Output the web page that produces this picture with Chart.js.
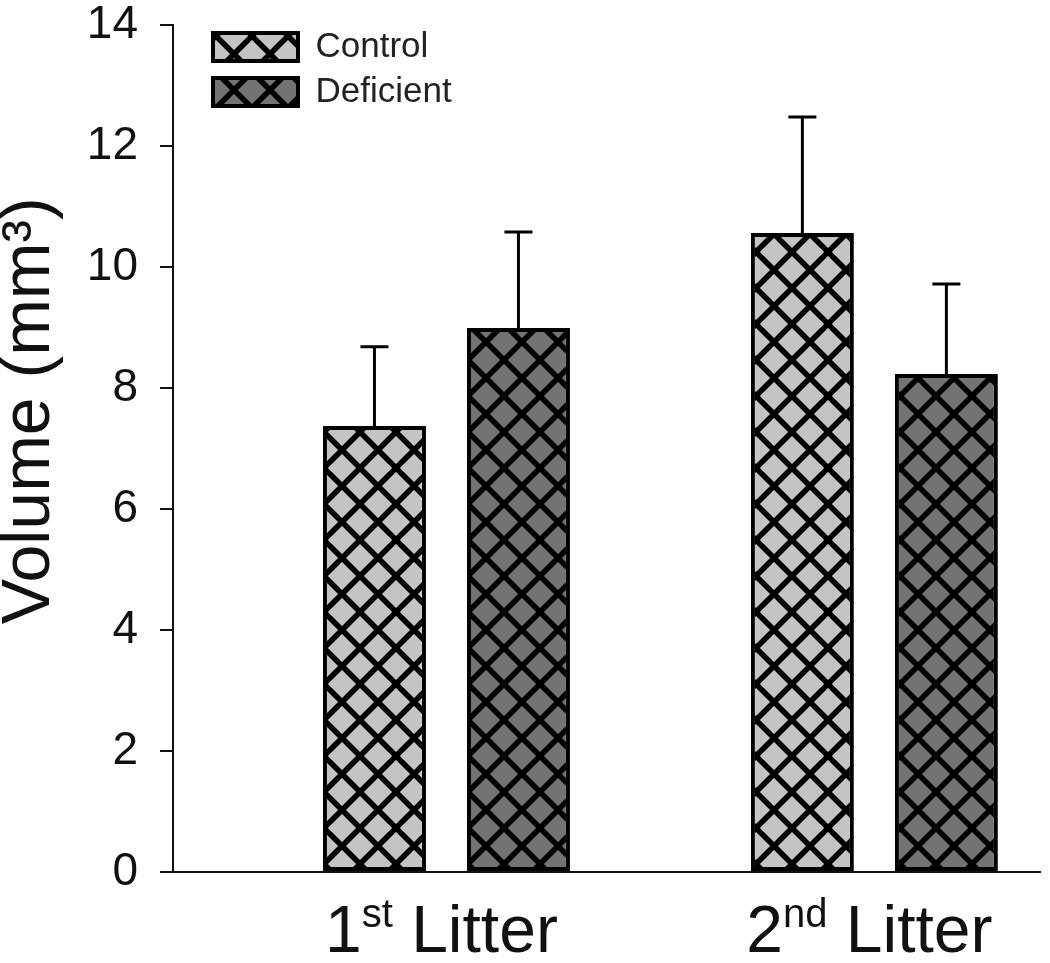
<!DOCTYPE html>
<html>
<head>
<meta charset="utf-8">
<script src="https://cdn.jsdelivr.net/npm/chart.js@4.4.1/dist/chart.umd.min.js"></script>
<style>
  html, body { margin: 0; padding: 0; background: #fff; }
  #wrap { width: 1050px; height: 963px; }
</style>
</head>
<body>
<div id="wrap"><canvas id="volChart" width="1050" height="963"></canvas></div>
<script>
    // data
    const categories = ['1st Litter', '2nd Litter'];
    const groupPos = [1, 2];
    const seriesNames = ['Control', 'Deficient'];
    const controlMean = [7.37, 10.56];
    const controlErr = [1.31, 1.92];
    const deficientMean = [8.99, 8.23];
    const deficientErr = [1.59, 1.49];
    const yTicks = [0, 2, 4, 6, 8, 10, 12, 14];

    const FONT = '"Liberation Sans", Arial, sans-serif';

    // crosshatch fill like the original
    function hatch(fill) {
        const P = 36;
        const c = document.createElement('canvas');
        c.width = P; c.height = P;
        const g = c.getContext('2d');
        g.fillStyle = fill;
        g.fillRect(0, 0, P, P);
        g.strokeStyle = '#000';
        g.lineWidth = 5.5;
        for (let k = -1; k <= 1; k++) {
            g.beginPath();
            g.moveTo(k * P, 0); g.lineTo(k * P + P, P);
            g.moveTo(k * P + P, 0); g.lineTo(k * P, P);
            g.stroke();
        }
        return g.createPattern(c, 'repeat');
    }

    const means = [controlMean, deficientMean];
    const errs = [controlErr, deficientErr];

    // upper error bars
    const errorBars = {
        id: 'errorBars',
        afterDatasetsDraw(chart) {
            const ctx = chart.ctx;
            const y = chart.scales.y;
            ctx.save();
            ctx.strokeStyle = '#000';
            ctx.lineWidth = 3;
            chart.data.datasets.forEach((ds, d) => {
                chart.getDatasetMeta(d).data.forEach((bar, i) => {
                    const top = y.getPixelForValue(means[d][i] + errs[d][i]);
                    ctx.beginPath();
                    ctx.moveTo(bar.x, bar.y);
                    ctx.lineTo(bar.x, top);
                    ctx.moveTo(bar.x - 14, top);
                    ctx.lineTo(bar.x + 14, top);
                    ctx.stroke();
                });
            });
            ctx.restore();
        }
    };

    // category labels with superscript ordinals
    const litterLabels = {
        id: 'litterLabels',
        afterDraw(chart) {
            const ctx = chart.ctx;
            const x = chart.scales.x;
            const base = chart.chartArea.bottom + 80;
            ctx.save();
            ctx.fillStyle = '#111';
            ctx.textBaseline = 'alphabetic';
            ctx.textAlign = 'left';
            categories.forEach((lab, i) => {
                const m = lab.match(/^(\d)(st|nd|rd|th)(.*)$/);
                const parts = [[m[1], 66, 0], [m[2], 40, -25], [m[3], 66, 0]];
                let total = 0;
                parts.forEach(p => { ctx.font = p[1] + 'px ' + FONT; total += ctx.measureText(p[0]).width; });
                let cx = x.getPixelForValue(groupPos[i]) - total / 2 - 5;
                parts.forEach(p => {
                    ctx.font = p[1] + 'px ' + FONT;
                    ctx.fillText(p[0], cx, base + p[2]);
                    cx += ctx.measureText(p[0]).width;
                });
            });
            ctx.restore();
        }
    };

    // put the legend inside the plot, top left, like the original
    const legendShift = {
        id: 'legendShift',
        afterLayout(chart) {
            const lg = chart.legend;
            if (lg) {
                const w = lg.width, h = lg.height;
                lg.left = chart.chartArea.left + 30;
                lg.top = chart.chartArea.top - 5.5;
                lg.right = lg.left + w;
                lg.bottom = lg.top + h;
            }
        }
    };

    const ctx = document.getElementById('volChart').getContext('2d');
    new Chart(ctx, {
        type: 'bar',
        data: {
            datasets: [
                {
                    label: seriesNames[0],
                    data: controlMean.map((v, i) => ({ x: groupPos[i], y: v })),
                    backgroundColor: hatch('#c4c4c4'),
                    borderColor: '#000',
                    borderWidth: 4,
                    borderSkipped: false
                },
                {
                    label: seriesNames[1],
                    data: deficientMean.map((v, i) => ({ x: groupPos[i], y: v })),
                    backgroundColor: hatch('#737373'),
                    borderColor: '#000',
                    borderWidth: 4,
                    borderSkipped: false
                }
            ]
        },
        options: {
            responsive: false,
            animation: false,
            categoryPercentage: 0.673,
            barPercentage: 0.715,
            layout: { padding: { top: 25, right: 10, left: 0, bottom: 0 } },
            plugins: {
                legend: {
                    position: 'chartArea',
                    align: 'start',
                    labels: {
                        boxWidth: 85,
                        boxHeight: 28,
                        padding: 10,
                        color: '#222',
                        font: { family: FONT, size: 35 }
                    }
                },
                tooltip: { enabled: false }
            },
            scales: {
                x: {
                    type: 'linear',
                    offset: false,
                    min: 0.361,
                    max: 2.387,
                    afterBuildTicks: s => { s.ticks = groupPos.map(v => ({ value: v })); },
                    afterFit: s => { s.height = 91; },
                    ticks: { display: false },
                    grid: { display: false, offset: false },
                    border: { display: true, color: '#111', width: 2 }
                },
                y: {
                    min: 0,
                    max: 14,
                    afterBuildTicks: s => { s.ticks = yTicks.map(v => ({ value: v })); },
                    afterFit: s => { s.width = 173; s.paddingTop = 0; s.paddingBottom = 0; },
                    ticks: {
                        color: '#111',
                        padding: 22,
                        font: { family: FONT, size: 46, lineHeight: 1 }
                    },
                    grid: { drawOnChartArea: false, tickLength: 13, color: '#111', lineWidth: 2 },
                    border: { color: '#111', width: 2 },
                    title: {
                        display: true,
                        text: '    Volume (mm³)',
                        color: '#111',
                        padding: 0,
                        font: { family: FONT, size: 68, lineHeight: 0.9 }
                    }
                }
            }
        },
        plugins: [errorBars, litterLabels, legendShift]
    });
</script>
</body>
</html>
